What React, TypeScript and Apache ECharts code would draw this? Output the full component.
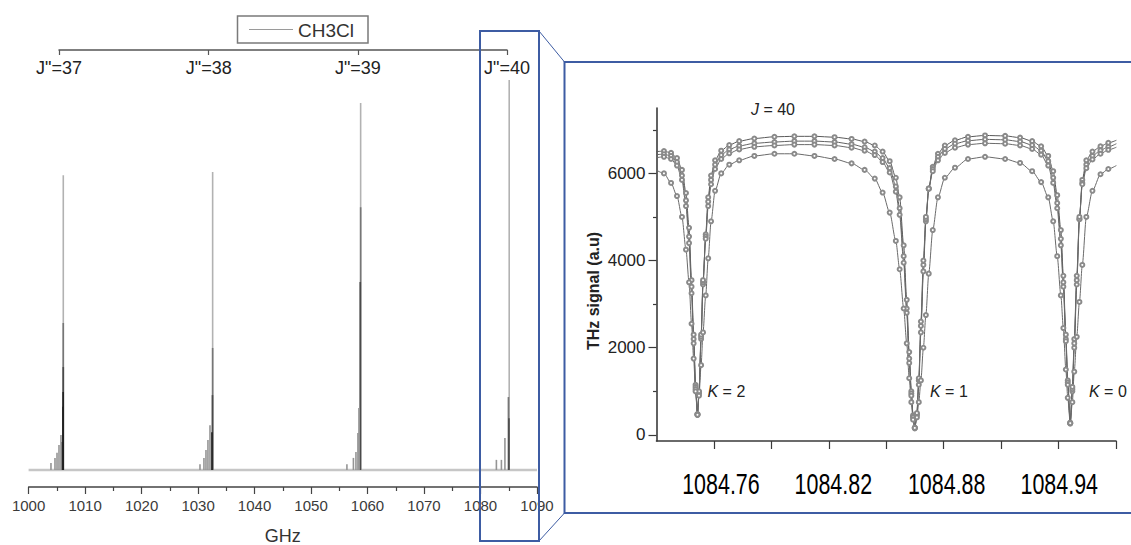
import React, { useEffect, useRef } from 'react';
import * as echarts from 'echarts';

// ---------------- Left panel: CH3Cl stick spectrum (GHz) ----------------
const spectrumMin = 1000;
const spectrumMax = 1090;
const spectrumTickStep = 10;
const legendName = 'CH3Cl';

const jBandLabels = ['J"=37', 'J"=38', 'J"=39', 'J"=40'];
const jBandFreqs = [1005.4, 1031.9, 1058.3, 1084.7];

const j37Freqs = [1006.14, 1006.14, 1006.14, 1006.12, 1006.09, 1006.0, 1005.73, 1005.38, 1005.03, 1004.67, 1003.96];
const j37Ints = [75.6, 37.7, 26.4, 20.0, 16.2, 7.2, 9.0, 6.4, 4.4, 3.1, 1.8];
const j38Freqs = [1032.58, 1032.58, 1032.55, 1032.46, 1032.11, 1031.75, 1031.4, 1031.04, 1030.34];
const j38Ints = [76.4, 31.3, 19.2, 9.7, 11.5, 7.7, 5.1, 3.1, 1.5];
const j39Freqs = [1058.78, 1058.78, 1058.71, 1058.48, 1058.3, 1057.95, 1057.5, 1056.35];
const j39Ints = [94.1, 67.4, 48.2, 15.9, 9.5, 4.6, 3.1, 1.5];
const j40Freqs = [1085.08, 1085.03, 1084.94, 1084.32, 1083.7, 1082.81];
const j40Ints = [100, 13.3, 18.7, 8.2, 2.6, 2.6];

// ---------------- Right panel: J = 40 THz transmission ----------------
const thzTickValues = [1084.76, 1084.79, 1084.82, 1084.85, 1084.88, 1084.91, 1084.94, 1084.97];
const thzLabelValues = [1084.76, 1084.82, 1084.88, 1084.94];
const signalMajorTicks = [0, 2000, 4000, 6000];
const signalMinorTicks = [1000, 3000, 5000, 7000];
const kLabels = ['K = 2', 'K = 1', 'K = 0'];

const thzFreqs = [
  1084.7297, 1084.7339, 1084.7376, 1084.7407, 1084.7433, 1084.7454, 1084.747, 1084.7483, 1084.7494, 1084.7504,
  1084.7514, 1084.7522, 1084.7533, 1084.7543, 1084.7557, 1084.757, 1084.7585, 1084.7606, 1084.7638, 1084.768,
  1084.7732, 1084.7811, 1084.7916, 1084.802, 1084.8125, 1084.823, 1084.8319, 1084.8387, 1084.844, 1084.8481,
  1084.8518, 1084.855, 1084.857, 1084.8591, 1084.8607, 1084.862, 1084.8631, 1084.864, 1084.8649, 1084.866,
  1084.867, 1084.8681, 1084.8694, 1084.8707, 1084.8722, 1084.8743, 1084.877, 1084.8806, 1084.8859, 1084.8927,
  1084.9016, 1084.9121, 1084.9199, 1084.9262, 1084.9309, 1084.9346, 1084.9372, 1084.9393, 1084.9412, 1084.9425,
  1084.9438, 1084.9448, 1084.9461, 1084.9472, 1084.9482, 1084.9495, 1084.9509, 1084.9524, 1084.9545, 1084.9577,
  1084.9619, 1084.966, 1084.9702,
];
const traceA = [
  6500, 6510, 6470, 6350, 6080, 5550, 4750, 3550, 2300, 1150,
  480, 950, 2200, 3450, 4600, 5450, 5950, 6300, 6520, 6650,
  6740, 6800, 6840, 6850, 6850, 6830, 6790, 6730, 6640, 6500,
  6280, 5900, 5450, 4350, 3100, 1900, 1000, 450, 170, 450,
  1150, 2350, 3750, 4900, 5650, 6150, 6450, 6640, 6760, 6840,
  6870, 6860, 6820, 6740, 6620, 6400, 6050, 5500, 4700, 3650,
  2300, 1250, 280, 1000, 2000, 3450, 4950, 5850, 6300, 6500,
  6620, 6700, 6760,
];
const traceB = [
  6430, 6440, 6400, 6260, 5950, 5380, 4550, 3400, 2200, 1100,
  470, 980, 2250, 3500, 4550, 5350, 5850, 6200, 6420, 6550,
  6630, 6690, 6720, 6740, 6740, 6720, 6670, 6600, 6500, 6350,
  6120, 5700, 5200, 4100, 2900, 1750, 950, 420, 160, 480,
  1250, 2500, 3900, 4950, 5650, 6100, 6380, 6560, 6680, 6750,
  6780, 6770, 6730, 6650, 6520, 6280, 5900, 5320, 4500, 3500,
  2200, 1200, 270, 1050, 2100, 3550, 4950, 5780, 6200, 6400,
  6530, 6610, 6680,
];
const traceC = [
  6360, 6380, 6330, 6180, 5850, 5250, 4400, 3250, 2100, 1050,
  460, 1000, 2300, 3550, 4500, 5250, 5750, 6100, 6330, 6460,
  6550, 6610, 6640, 6660, 6660, 6640, 6590, 6520, 6420, 6260,
  6020, 5580, 5050, 3950, 2800, 1650, 900, 400, 150, 500,
  1300, 2600, 4000, 5000, 5650, 6050, 6300, 6470, 6590, 6660,
  6690, 6680, 6640, 6560, 6430, 6180, 5780, 5200, 4350, 3400,
  2150, 1150, 260, 1100, 2200, 3650, 5000, 5750, 6120, 6320,
  6450, 6540, 6600,
];
const traceD = [
  6080, 6000, 5780, 5480, 5000, 4250, 3500, 2550, 1750, 1000,
  460, 900, 1600, 2350, 3200, 4050, 4900, 5600, 6000, 6200,
  6300, 6400, 6450, 6450, 6400, 6330, 6230, 6080, 5880, 5560,
  5100, 4450, 3800, 2900, 2100, 1300, 750, 350, 160, 400,
  750, 1250, 2000, 2750, 3700, 4700, 5450, 5900, 6130, 6330,
  6380, 6330, 6240, 6050, 5800, 5450, 4900, 4100, 3200, 2450,
  1500, 850, 268, 750, 1450, 2250, 3050, 3900, 5000, 5600,
  5980, 6100, 6180,
];

const FONT = "'Liberation Sans', Arial, Helvetica, sans-serif";
const BLUE = '#3D5CA3';
const AXIS = '#3a3a3a';
// measured horizontal offsets (px) of the overlaid big frequency labels relative to their ticks
const bigLabelShift = [7, 4.5, 3, 0.7];

function stickData(freqs: number[], ints: number[]) {
  const order = ints.map((_, i) => i).sort((a, b) => ints[b] - ints[a]);
  const fMain = freqs[order[0]];
  const shades = ['#b2b2b2', '#767676', '#4a4a4a', '#222222'];
  let rank = 0;
  return order.map((i) => {
    const onMain = Math.abs(freqs[i] - fMain) < 0.25;
    const color = onMain ? shades[Math.min(rank++, 3)] : '#959595';
    return { value: [freqs[i], ints[i]], itemStyle: { color } };
  });
}

function traceSeries(name: string, values: number[], lineColor: string) {
  return {
    type: 'line',
    name,
    xAxisIndex: 1,
    yAxisIndex: 1,
    data: thzFreqs.map((f, i) => [f, values[i]]),
    smooth: 0.25,
    smoothMonotone: 'x',
    symbol: 'emptyCircle',
    symbolSize: 4,
    showSymbol: true,
    showAllSymbol: true,
    lineStyle: { color: lineColor, width: 1 },
    itemStyle: { color: '#8a8a8a', borderWidth: 1 },
    silent: true,
    z: 4,
  };
}

export default function App() {
  const ref = useRef<HTMLDivElement>(null);

  useEffect(() => {
    if (!ref.current) return;
    const chart = echarts.init(ref.current, undefined, { renderer: 'svg' });

    const sticks = [
      ...stickData(j37Freqs, j37Ints),
      ...stickData(j38Freqs, j38Ints),
      ...stickData(j39Freqs, j39Ints),
      ...stickData(j40Freqs, j40Ints),
    ];

    const option: any = {
      animation: false,
      textStyle: { fontFamily: FONT },
      grid: [
        { left: 28.6, right: 1131 - 537, top: 60, bottom: 545 - 487, outerBoundsMode: 'none' },
        { left: 656.5, right: 1131 - 1116, top: 108, bottom: 545 - 441, outerBoundsMode: 'none' },
        { left: 59, right: 1131 - 507, top: 49, height: 1, outerBoundsMode: 'none' },
      ],
      xAxis: [
        {
          gridIndex: 0,
          type: 'value',
          min: spectrumMin,
          max: spectrumMax,
          interval: spectrumTickStep,
          axisLine: { onZero: false, lineStyle: { color: '#444', width: 1.5 } },
          axisTick: { length: 7, lineStyle: { color: '#444', width: 1.2 } },
          minorTick: { show: true, splitNumber: 2, length: 4, lineStyle: { color: '#444', width: 1.2 } },
          minorSplitLine: { show: false },
          splitLine: { show: false },
          axisLabel: { fontSize: 15, color: '#3a3a3a', margin: 11, fontFamily: FONT, formatter: (v: number) => String(v) },
          name: 'GHz',
          nameLocation: 'middle',
          nameGap: 40,
          nameTextStyle: { fontSize: 18, color: '#333', fontFamily: FONT },
        },
        {
          gridIndex: 1,
          type: 'value',
          min: 1084.73,
          max: 1084.97,
          axisLine: { onZero: false, lineStyle: { color: AXIS, width: 1.6 } },
          axisTick: { customValues: thzTickValues, length: 8, lineStyle: { color: AXIS, width: 1.2 } },
          axisLabel: { show: false },
          splitLine: { show: false },
        },
        {
          gridIndex: 2,
          type: 'value',
          min: jBandFreqs[0],
          max: jBandFreqs[jBandFreqs.length - 1],
          axisLine: { onZero: false, lineStyle: { color: '#555', width: 1.5 } },
          axisTick: { customValues: jBandFreqs, length: 5, lineStyle: { color: '#555', width: 1.2 } },
          axisLabel: {
            customValues: jBandFreqs,
            formatter: (v: number) => {
              let best = 0;
              jBandFreqs.forEach((f, i) => {
                if (Math.abs(f - v) < Math.abs(jBandFreqs[best] - v)) best = i;
              });
              return jBandLabels[best];
            },
            fontSize: 18,
            color: '#222',
            margin: 9,
            fontFamily: FONT,
          },
          splitLine: { show: false },
        },
      ],
      yAxis: [
        { gridIndex: 0, type: 'value', min: -4.36, max: 105.13, show: false },
        {
          gridIndex: 1,
          type: 'value',
          position: 'left',
          min: -140,
          max: 7500,
          axisLine: { show: true, lineStyle: { color: AXIS, width: 1.6 } },
          axisTick: { show: true, customValues: signalMajorTicks, length: 8, lineStyle: { color: AXIS, width: 1.2 } },
          axisLabel: {
            customValues: signalMajorTicks,
            fontSize: 17,
            color: '#222',
            margin: 11,
            fontFamily: FONT,
            formatter: (v: number) => String(v),
          },
          splitLine: { show: false },
        },
        {
          gridIndex: 1,
          type: 'value',
          position: 'left',
          offset: 0,
          min: -140,
          max: 7500,
          axisLine: { show: false },
          axisTick: { show: true, customValues: signalMinorTicks, length: 3.5, lineStyle: { color: AXIS, width: 1.2 } },
          axisLabel: { show: false },
          splitLine: { show: false },
        },
        { gridIndex: 2, type: 'value', min: 0, max: 1, show: false },
      ],
      series: [
        {
          type: 'line',
          name: legendName,
          xAxisIndex: 0,
          yAxisIndex: 0,
          data: [
            [spectrumMin, 0],
            [spectrumMax, 0],
          ],
          symbol: 'none',
          lineStyle: { color: '#c6c6c6', width: 2.5 },
          silent: true,
          z: 2,
        },
        {
          type: 'custom',
          name: 'CH3Cl sticks',
          xAxisIndex: 0,
          yAxisIndex: 0,
          data: sticks,
          encode: { x: 0, y: 1 },
          silent: true,
          z: 3,
          renderItem: (_params: any, api: any) => {
            const p0 = api.coord([api.value(0), 0]);
            const p1 = api.coord([api.value(0), api.value(1)]);
            return {
              type: 'line',
              shape: { x1: p0[0], y1: p0[1], x2: p1[0], y2: p1[1] },
              style: { stroke: api.visual('color'), lineWidth: 1.6 },
            };
          },
        },
        traceSeries('trace A', traceA, '#5a5a5a'),
        traceSeries('trace B', traceB, '#626262'),
        traceSeries('trace C', traceC, '#6a6a6a'),
        traceSeries('trace D', traceD, '#6a6a6a'),
      ],
    };

    chart.setOption(option);

    // big overlaid frequency labels (horizontally condensed), positioned from the axis scale
    const bigLabels = thzLabelValues.map((v, i) => {
      const px = chart.convertToPixel({ xAxisIndex: 1 } as any, v) as number;
      return {
        type: 'text',
        x: px + bigLabelShift[i],
        y: 484,
        scaleX: 0.74,
        style: {
          text: v.toFixed(2),
          fill: '#000',
          fontSize: 29,
          fontFamily: FONT,
          align: 'center',
          verticalAlign: 'middle',
        },
        z: 100,
      };
    });

    chart.setOption({
      graphic: [
        // legend box
        { type: 'rect', shape: { x: 237.5, y: 16, width: 130.5, height: 27 }, style: { fill: '#fff', stroke: '#7a7a7a', lineWidth: 1.5 }, z: 100 },
        { type: 'line', shape: { x1: 249, y1: 29.5, x2: 293, y2: 29.5 }, style: { stroke: '#9a9a9a', lineWidth: 1 }, z: 100 },
        {
          type: 'text',
          x: 298,
          y: 30,
          style: { text: legendName, fill: '#333', fontSize: 19, fontFamily: FONT, align: 'left', verticalAlign: 'middle' },
          z: 100,
        },
        // zoom boxes
        { type: 'rect', shape: { x: 480, y: 31, width: 59, height: 510 }, style: { fill: 'none', stroke: BLUE, lineWidth: 2 }, z: 100 },
        { type: 'rect', shape: { x: 564.5, y: 62, width: 580, height: 451 }, style: { fill: 'none', stroke: BLUE, lineWidth: 2 }, z: 100 },
        { type: 'line', shape: { x1: 539, y1: 31, x2: 564.5, y2: 62 }, style: { stroke: BLUE, lineWidth: 1 }, z: 100 },
        { type: 'line', shape: { x1: 539, y1: 541, x2: 564.5, y2: 513 }, style: { stroke: BLUE, lineWidth: 1 }, z: 100 },
        {
          type: 'text',
          x: 773,
          y: 109,
          style: {
            text: '{i|J} = 40',
            fill: '#222',
            fontSize: 16,
            fontFamily: FONT,
            align: 'center',
            verticalAlign: 'middle',
            rich: { i: { fontStyle: 'italic', fontSize: 16, fontFamily: FONT, fill: '#222' } },
          },
          z: 100,
        },
        ...kLabels.map((t, i) => ({
          type: 'text',
          x: [707.5, 930, 1089][i],
          y: 391.5,
          style: {
            text: '{i|K}' + t.slice(1),
            fill: '#222',
            fontSize: 16,
            fontFamily: FONT,
            align: 'left',
            verticalAlign: 'middle',
            rich: { i: { fontStyle: 'italic', fontSize: 16, fontFamily: FONT, fill: '#222' } },
          },
          z: 100,
        })),
        {
          type: 'text',
          x: 593,
          y: 291,
          rotation: Math.PI / 2,
          style: {
            text: 'THz signal (a.u)',
            fill: '#222',
            fontSize: 16,
            fontWeight: 'bold',
            fontFamily: FONT,
            align: 'center',
            verticalAlign: 'middle',
          },
          z: 100,
        },
        ...bigLabels,
      ],
    });

    return () => chart.dispose();
  }, []);

  return (
    <div
      ref={ref}
      style={{ position: 'absolute', left: 0, top: 0, width: 1131, height: 545, background: '#fff' }}
    />
  );
}
